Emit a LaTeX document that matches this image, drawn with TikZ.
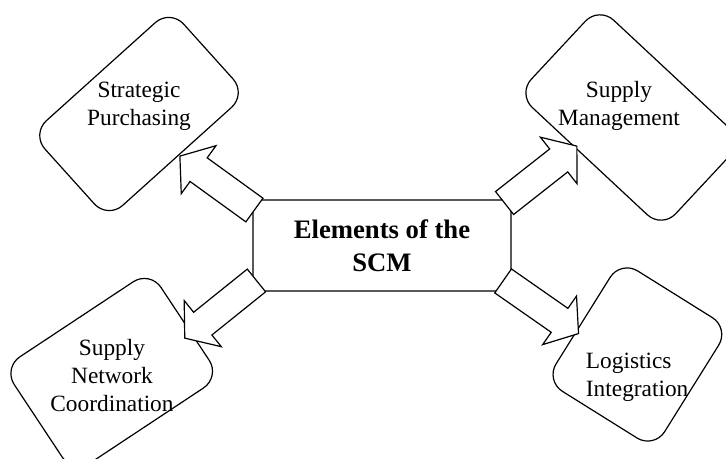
\documentclass[tikz,border=0pt]{standalone}
\usepackage{fontspec}
\setmainfont{Liberation Serif}
\usetikzlibrary{positioning,shapes,arrows,calc}

\begin{document}
\begin{tikzpicture}[x=0.75pt, y=-0.75pt,
    card/.style={draw, line width=0.9pt, rounded corners=15pt, inner sep=0pt},
    cardtext/.style={font=\fontsize{17.5}{21}\selectfont, align=center, inner sep=0pt},
    barrow/.style={single arrow, draw, fill=white, line width=0.9pt, inner xsep=0pt,
      inner ysep=10.5pt, minimum height=69pt, single arrow head extend=11.25pt,
      single arrow tip angle=104, anchor=tail}]
  \useasboundingbox (0,0) rectangle (726,459);

  % outer boxes
  \node[card, rotate=42, minimum width=140pt, minimum height=85.5pt] (sp) at (139,114) {};
  \node[card, rotate=-43, minimum width=148pt, minimum height=89.5pt] (sm) at (630.5,117.5) {};
  \node[card, rotate=33.5, minimum width=132pt, minimum height=95.5pt] (snc) at (111.7,372.4) {};
  \node[card, rotate=58, minimum width=106.5pt, minimum height=96pt] (li) at (637.4,354.5) {};

  \node[cardtext] (spt) at (139,106) {Strategic\\Purchasing};
  \node[cardtext] (smt) at (619,106) {Supply\\Management};
  \node[cardtext] (snct) at (112,376) {Supply\\Network\\Coordination};
  \node[cardtext, align=left, anchor=west] (lit) at (585.7,377) {Logistics\\Integration};

  % centre
  \node[draw, line width=0.9pt, rounded corners=6pt, minimum width=193.5pt, minimum height=68.25pt,
    align=center, font=\bfseries\fontsize{20}{24.75}\selectfont] (elem) at (382,245.5)
    {Elements of the\\SCM};

  % block arrows
  \coordinate (b1) at ($(elem.north west)+(2.5,11)$);
  \coordinate (b2) at ($(elem.north east)+(-7.5,4)$);
  \coordinate (b3) at ($(elem.south west)+(4.5,-11.5)$);
  \coordinate (b4) at ($(elem.south east)+(-9,-11)$);
  \node[barrow, rotate=144.1] (a1) at (b1) {};
  \node[barrow, rotate=38.2] (a2) at (b2) {};
  \node[barrow, rotate=218.8] (a3) at (b3) {};
  \node[barrow, rotate=-34.9] (a4) at (b4) {};
\end{tikzpicture}
\end{document}
